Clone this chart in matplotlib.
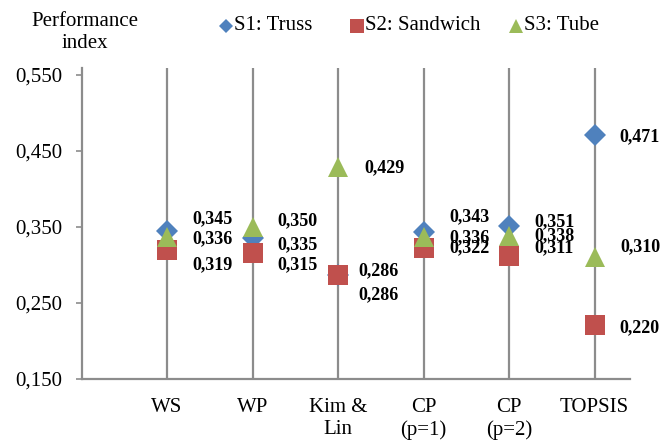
import matplotlib
matplotlib.use("Agg")
import matplotlib.pyplot as plt
from matplotlib.lines import Line2D

plt.rcParams['font.family'] = ['Liberation Serif', 'DejaVu Serif']

# ---- data ----
categories = ["WS", "WP", "Kim &\nLin", "CP\n(p=1)", "CP\n(p=2)", "TOPSIS"]
s1_truss = [0.345, 0.335, 0.286, 0.343, 0.351, 0.471]
s2_sandwich = [0.319, 0.315, 0.286, 0.322, 0.311, 0.220]
s3_tube = [0.336, 0.350, 0.429, 0.336, 0.338, 0.310]
series_names = ["S1: Truss", "S2: Sandwich", "S3: Tube"]
yticks = [0.150, 0.250, 0.350, 0.450, 0.550]
ytick_labels = ["0,150", "0,250", "0,350", "0,450", "0,550"]

# label offsets in pixels (dx right, dy up), per series per category
s1_lbl_dy = [12, -7, 5, 15, 4, -2]
s2_lbl_dy = [-14, -11, -19, 0, 9, -2]
s3_lbl_dy = [-1, 6.5, -1, 0, 0, 10]
s1_lbl_dx = [45, 45, 40, 46, 45, 45]
s2_lbl_dx = [45, 45, 40, 46, 45, 45]
s3_lbl_dx = [45, 45, 46, 46, 45, 46]

colors = ["#4F81BD", "#C0504D", "#9BBB59"]
markers = ["D", "s", "^"]
msizes = [10.7, 15, 15]

W, H = 672, 442
fig = plt.figure(figsize=(W / 100, H / 100), dpi=100)
left, right, bottom, top = 81.5, 630, 378.5, 68
ax = fig.add_axes([left / W, (H - bottom) / H, (right - left) / W, (bottom - top) / H])

ymax = 0.55 + (75 - 68) / 757.5
ax.set_ylim(0.15, ymax)
ax.set_xlim(0, 6.415)

xs = list(range(1, len(categories) + 1))
gray = "#8C8C8C"
ax.vlines(xs, 0.15, ymax, colors=gray, linewidth=1.6, zorder=1)

all_series = [s1_truss, s2_sandwich, s3_tube]
all_dy = [s1_lbl_dy, s2_lbl_dy, s3_lbl_dy]
all_dx = [s1_lbl_dx, s2_lbl_dx, s3_lbl_dx]
for k, vals in enumerate(all_series):
    ax.plot(xs, vals, linestyle="none", marker=markers[k], markersize=msizes[k],
            color=colors[k], markeredgewidth=0, zorder=3 + k, clip_on=False)
    for x, v, dx, dy in zip(xs, vals, all_dx[k], all_dy[k]):
        ax.annotate(f"{v:.3f}".replace(".", ","), (x, v),
                    xytext=(dx * 0.72, dy * 0.72), textcoords="offset points",
                    ha="center", va="center", fontsize=13, fontweight="bold",
                    color="black", zorder=10)

ax.set_yticks(yticks)
ax.set_yticklabels(ytick_labels, fontsize=15)
ax.set_xticks(xs)
ax.set_xticklabels(categories, fontsize=15, va="top", linespacing=1.2)
ax.tick_params(axis="x", length=0, pad=14)
ax.tick_params(axis="y", length=4.5, width=1.2, color=gray, pad=9)

for s in ["top", "right"]:
    ax.spines[s].set_visible(False)
for s in ["left", "bottom"]:
    ax.spines[s].set_color(gray)
    ax.spines[s].set_linewidth(1.6)

# y-axis title
fig.text(85 / W, 1 - 21 / H, "Performance", ha="center", va="center", fontsize=15)
fig.text(85 / W, 1 - 44 / H, "index", ha="center", va="center", fontsize=15)

# legend (manual)
leg_x = [226, 357, 516]
leg_y = 26
leg_ms = [7.5, 10, 10]
for k in range(3):
    fig.add_artist(Line2D([leg_x[k] / W], [1 - leg_y / H], transform=fig.transFigure,
                          marker=markers[k], markersize=leg_ms[k], color=colors[k],
                          markeredgewidth=0, linestyle="none"))
    fig.text((leg_x[k] + 8) / W, 1 - leg_y / H, series_names[k], ha="left",
             va="center", fontsize=15)

fig.savefig("out.png", dpi=100)
